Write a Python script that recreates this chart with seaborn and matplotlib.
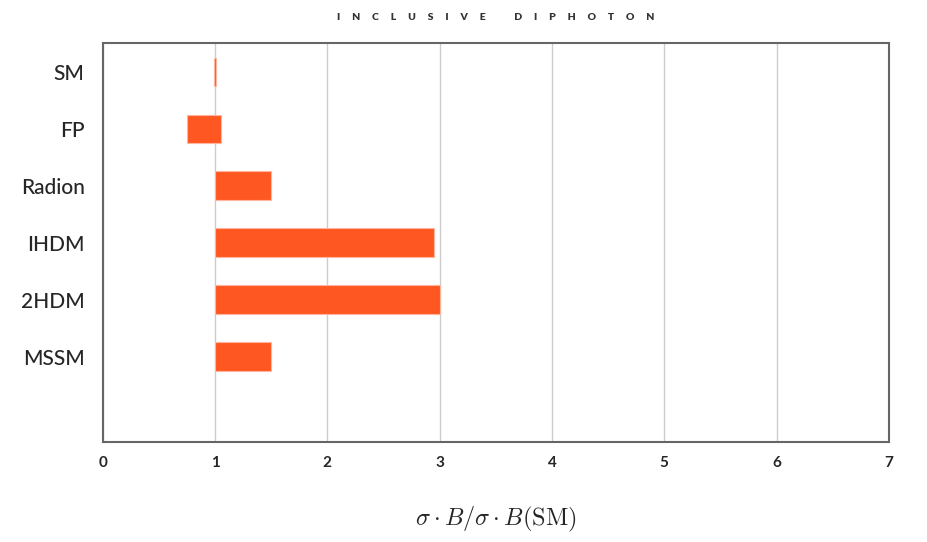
import matplotlib
matplotlib.use("Agg")
import seaborn as sns
import matplotlib.pyplot as plt

# models and the ranges of sigma*B relative to the SM
models = ["SM", "FP", "Radion", "IHDM", "2HDM", "MSSM"]
low = [0.99, 0.75, 1.0, 1.0, 1.0, 1.0]
high = [1.01, 1.05, 1.5, 2.95, 3.0, 1.5]
xticks = [0, 1, 2, 3, 4, 5, 6, 7]

sns.set_style("white")
plt.rcParams["font.family"] = ["Lato", "DejaVu Sans"]
plt.rcParams["mathtext.fontset"] = "cm"

fig = plt.figure(figsize=(9.27, 5.42), dpi=100)
ax = fig.add_axes([0.1108, 0.1845, 0.848, 0.7355])

widths = [h - l for l, h in zip(low, high)]
ax.barh(range(len(models)), widths, left=low, height=0.5,
        color="#FF5722", edgecolor="#FFB59E", linewidth=0.8, zorder=3)

ax.set_xlim(0, 7)
ax.set_ylim(6.5, -0.5)
ax.set_xticks(xticks)
ax.set_xticklabels([str(t) for t in xticks], fontsize=11, fontweight="bold")
ax.set_yticks(range(len(models)))
ax.set_yticklabels(models, fontsize=15, fontweight="medium")
ax.tick_params(axis="both", length=0)
ax.tick_params(axis="x", pad=10)
ax.tick_params(axis="y", pad=13)

ax.grid(axis="x", color="#cccccc", linewidth=1.0, zorder=0)
ax.grid(axis="y", visible=False)
for s in ax.spines.values():
    s.set_color("#666666")
    s.set_linewidth(1.5)

ax.set_xlabel(r"$\sigma \cdot B/\sigma \cdot B(\mathrm{SM})$", fontsize=17.5, labelpad=25)

title = "            ".join("     ".join(w) for w in ["INCLUSIVE", "DIPHOTON"])
ax.set_title(title, fontsize=7.5, fontweight="heavy", color="#333333", pad=17)

fig.savefig("out.png", dpi=100)
